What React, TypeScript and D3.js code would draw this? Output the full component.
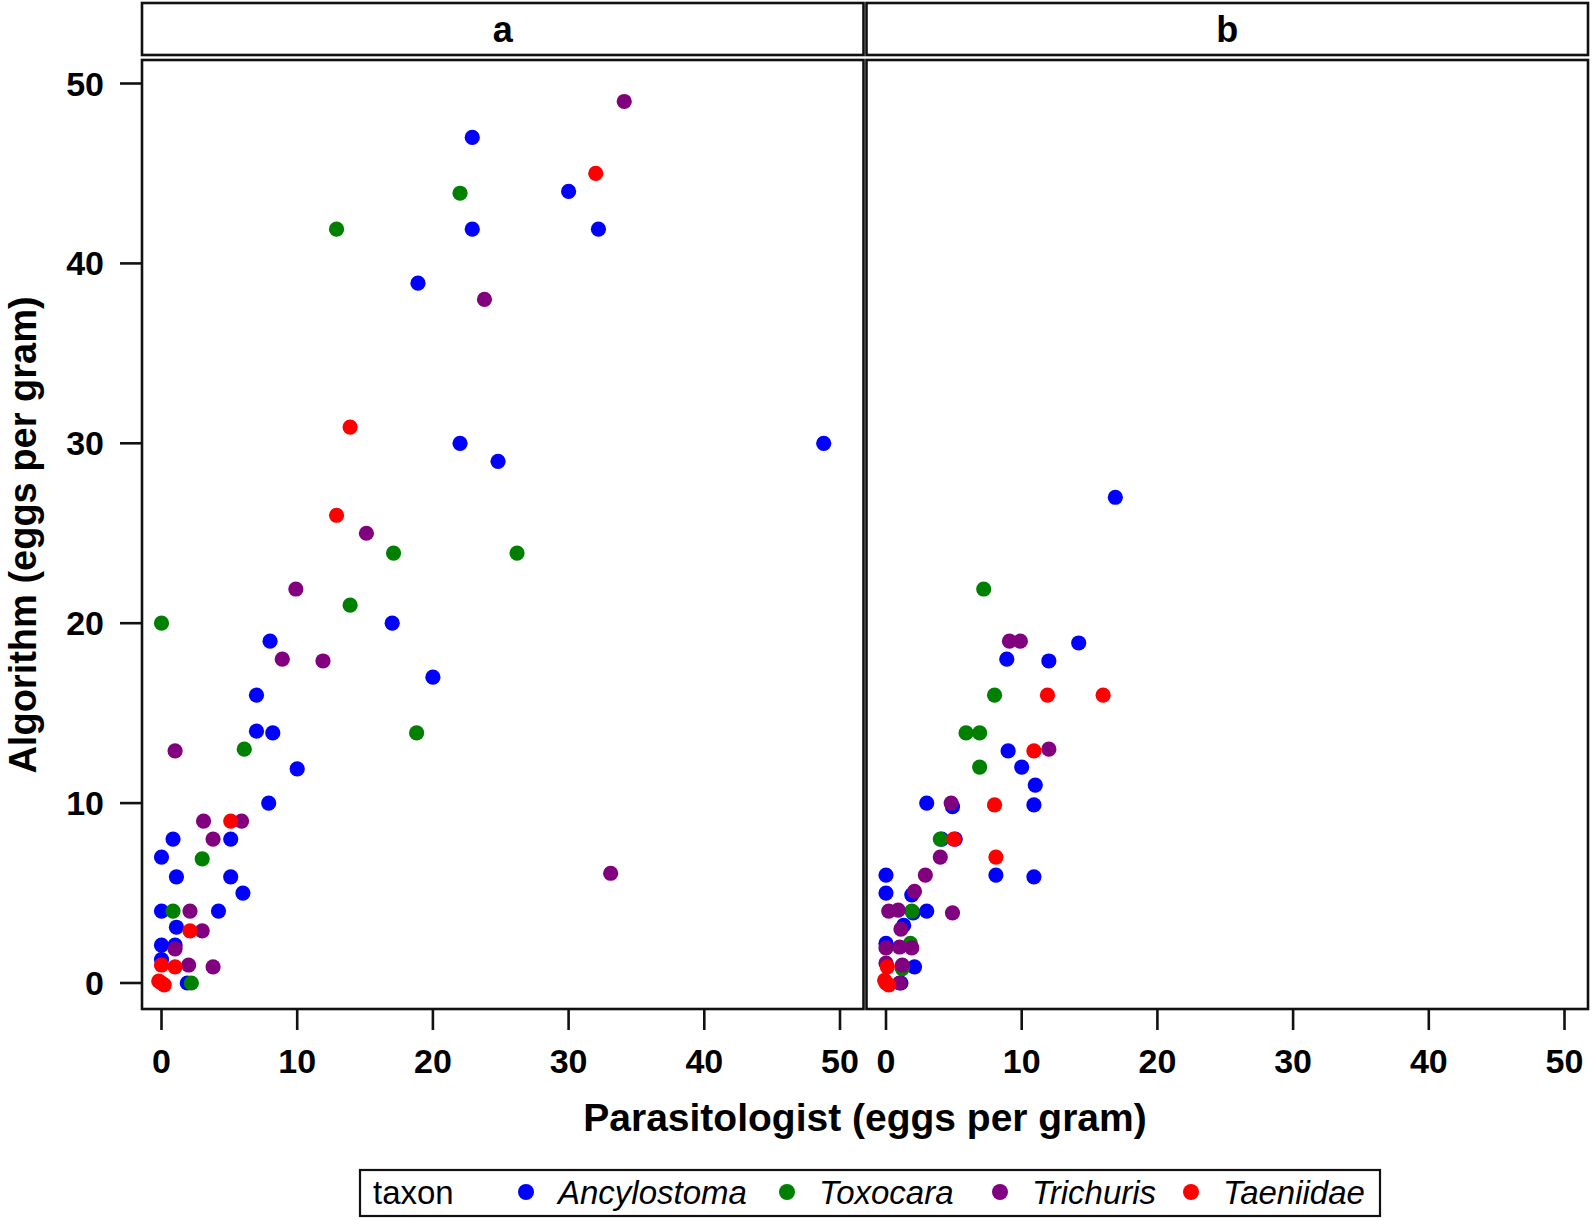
import React, { useEffect } from 'react';
import * as d3 from 'd3';

type Pt = [number, number];

const taxa = ['Ancylostoma', 'Toxocara', 'Trichuris', 'Taeniidae'];
const taxonColors = ['#0000ff', '#008000', '#800080', '#ff0000'];
const panelLabels = ['a', 'b'];
const xTicks = [0, 10, 20, 30, 40, 50];
const yTicks = [0, 10, 20, 30, 40, 50];
const xTitle = 'Parasitologist (eggs per gram)';
const yTitle = 'Algorithm (eggs per gram)';
const legendTitle = 'taxon';

// Panel a
const aAncylostoma: Pt[] = [
  [22.9, 47], [30, 44], [32.2, 41.9], [22.9, 41.9], [18.9, 38.9], [22, 30], [24.8, 29], [48.8, 30],
  [17, 20], [20, 17], [8, 19], [7, 16], [7, 14], [8.2, 13.9], [10, 11.9], [7.9, 10], [5.1, 8],
  [0.85, 8], [0, 7], [1.1, 5.9], [5.1, 5.9], [6, 5], [0, 4], [4.2, 4], [1.1, 3.1], [0, 2.1],
  [1, 2.1], [0, 1.3], [1.9, 0],
];
const aToxocara: Pt[] = [
  [22, 43.9], [12.9, 41.9], [17.1, 23.9], [26.2, 23.9], [13.9, 21], [0, 20], [18.8, 13.9],
  [6.1, 13], [3, 6.9], [0.85, 4], [2.2, 0],
];
const aTrichuris: Pt[] = [
  [34.1, 49], [23.8, 38], [15.1, 25], [9.9, 21.9], [8.9, 18], [11.9, 17.9], [1, 12.9], [3.1, 9],
  [5.9, 9], [3.8, 8], [2.1, 4], [3, 2.9], [1, 1.9], [2, 1], [3.8, 0.9], [33.1, 6.1],
];
const aTaeniidae: Pt[] = [
  [32, 45], [13.9, 30.9], [12.9, 26], [5.1, 9], [2.1, 2.9], [0, 1], [1, 0.9], [-0.2, 0.1],
  [0.2, -0.1], [0, 0],
];

// Panel b
const bAncylostoma: Pt[] = [
  [16.9, 27], [14.2, 18.9], [8.9, 18], [12, 17.9], [9, 12.9], [10, 12], [11, 11], [3, 10],
  [4.9, 9.8], [10.9, 9.9], [4.1, 8], [5.1, 8], [0, 6], [8.1, 6], [10.9, 5.9], [0, 5],
  [1.9, 4.9], [3, 4], [2, 3.9], [1.3, 3.2], [0, 2.2], [2.1, 0.9], [1.1, 0],
];
const bToxocara: Pt[] = [
  [7.2, 21.9], [8, 16], [5.9, 13.9], [6.9, 13.9], [6.9, 12], [4, 8], [1.9, 4], [1.8, 2.2], [1.2, 0.8],
];
const bTrichuris: Pt[] = [
  [9.1, 19], [9.9, 19], [12, 13], [4.8, 10], [4, 7], [2.9, 6], [2.1, 5.1], [0.2, 4], [0.9, 4.05],
  [4.9, 3.9], [1.1, 3], [0, 1.95], [1, 2], [1.9, 1.95], [0, 1.1], [1.2, 1], [1, 0],
];
const bTaeniidae: Pt[] = [
  [11.9, 16], [16, 16], [10.9, 12.9], [8, 9.9], [5, 8], [8.1, 7], [0.1, 0.9], [-0.1, 0.15],
  [0.2, -0.1], [0, 0],
];

const panelData: Pt[][][] = [
  [aAncylostoma, aToxocara, aTrichuris, aTaeniidae],
  [bAncylostoma, bToxocara, bTrichuris, bTaeniidae],
];

const FONT = "'Liberation Sans', Arial, Helvetica, sans-serif";

export default function App() {
  useEffect(() => {
    document.body.style.margin = '0';
  }, []);

  const W = 1594;
  const H = 1220;
  const plotTop = 60;
  const plotBottom = 1009;
  const stripTop = 3;
  const stripBottom = 55;
  const panelX: [number, number][] = [
    [142, 863.5],
    [866.5, 1588],
  ];
  const pad = 19.5;
  const stroke = '#111';
  const sw = 2.6;

  const y = d3.scaleLinear().domain([0, 50]).range([983, 83.5]);
  const xScales = panelX.map(([l]) =>
    d3.scaleLinear().domain([0, 50]).range([l + pad, l + pad + 678.5])
  );

  const legendDots = [526, 787, 1000, 1191];
  const legendY = 1192;

  return (
    <svg width={W} height={H} style={{ display: 'block', background: '#fff' }} fontFamily={FONT}>
      <rect x={0} y={0} width={W} height={H} fill="#fff" />
      {panelX.map(([l, r], pi) => {
        const x = xScales[pi];
        return (
          <g key={pi}>
            <rect x={l} y={stripTop} width={r - l} height={stripBottom - stripTop} fill="#fff" stroke={stroke} strokeWidth={sw} />
            <text x={(l + r) / 2} y={42} textAnchor="middle" fontSize={36} fontWeight="bold" fill="#000">
              {panelLabels[pi]}
            </text>
            <g>
              {panelData[pi].map((series, si) =>
                series.map((d, k) => (
                  <circle key={`${si}-${k}`} cx={x(d[0])} cy={y(d[1])} r={7.6} fill={taxonColors[si]} />
                ))
              )}
            </g>
            <rect x={l} y={plotTop} width={r - l} height={plotBottom - plotTop} fill="none" stroke={stroke} strokeWidth={sw} />
            {xTicks.map((t) => (
              <g key={t}>
                <line x1={x(t)} x2={x(t)} y1={plotBottom} y2={1030} stroke={stroke} strokeWidth={sw} />
                <text x={x(t)} y={1073} textAnchor="middle" fontSize={34} fontWeight="bold" fill="#000">
                  {t}
                </text>
              </g>
            ))}
          </g>
        );
      })}
      {yTicks.map((t) => (
        <g key={t}>
          <line x1={120} x2={142} y1={y(t)} y2={y(t)} stroke={stroke} strokeWidth={sw} />
          <text x={104} y={y(t) + 12} textAnchor="end" fontSize={34} fontWeight="bold" fill="#000">
            {t}
          </text>
        </g>
      ))}
      <text x={865} y={1131} textAnchor="middle" fontSize={39} fontWeight="bold" fill="#000">
        {xTitle}
      </text>
      <text
        transform={`translate(36, 535) rotate(-90)`}
        textAnchor="middle"
        fontSize={38}
        fontWeight="bold"
        fill="#000"
      >
        {yTitle}
      </text>
      <rect x={360} y={1170} width={1020} height={46} fill="#fff" stroke={stroke} strokeWidth={2.2} />
      <text x={373} y={legendY + 12} fontSize={33} fill="#000">
        {legendTitle}
      </text>
      {taxa.map((t, i) => (
        <g key={t}>
          <circle cx={legendDots[i]} cy={legendY} r={8} fill={taxonColors[i]} />
          <text x={legendDots[i] + 32} y={legendY + 12} fontSize={33} fontStyle="italic" fill="#000">
            {t}
          </text>
        </g>
      ))}
    </svg>
  );
}
